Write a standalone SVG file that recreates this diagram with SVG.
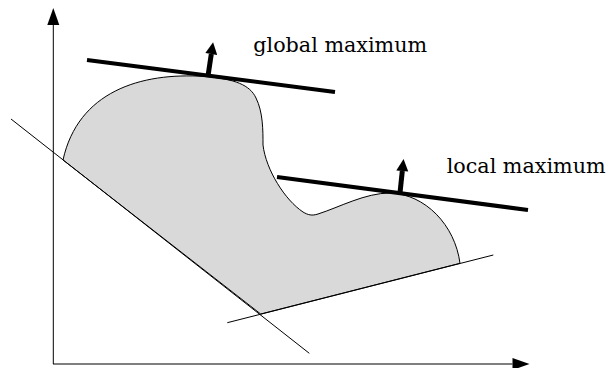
<svg xmlns="http://www.w3.org/2000/svg" width="608" height="368" viewBox="0 0 608 368">
  <style>
    .thin { stroke: #000; stroke-width: 1; fill: none; }
    .thick { stroke: #000; stroke-width: 4; fill: none; }
    .shaft { stroke: #000; stroke-width: 5; fill: none; }
    .region { fill: #d9d9d9; stroke: #000; stroke-width: 1; }
    .label { font-family: "DejaVu Serif", "Liberation Serif", serif; font-size: 20.7px; fill: #000; }
  </style>
  <defs>
    <marker id="axisHead" markerUnits="userSpaceOnUse" markerWidth="17" markerHeight="12" refX="0" refY="6" orient="auto" overflow="visible">
      <path d="M0,0 L17,6 L0,12 Z" fill="#000"/>
    </marker>
    <marker id="normalHead" markerUnits="userSpaceOnUse" markerWidth="12" markerHeight="12" refX="0" refY="6" orient="auto" overflow="visible">
      <path d="M0,0 L12,6 L0,12 Z" fill="#000"/>
    </marker>
  </defs>
  <rect width="608" height="368" fill="#fff"/>

  <g id="region">
    <path class="region" d="M63,160 C78,92 140,72 205,76.5 C235,79 250,85 256,98 C263,112 263,130 263,145 C266,170 285,200 303,212 C308,215 312,216 318,214 C340,207 365,193 390,193 C425,194 455,225 460,263.3 L260.7,314 Z"/>
  </g>

  <g id="connectors">
    <line id="y-axis" class="thin" x1="53.3" y1="364" x2="53.3" y2="25" marker-end="url(#axisHead)"/>
    <line id="x-axis" class="thin" x1="53" y1="364" x2="512.5" y2="364" marker-end="url(#axisHead)"/>
    <line id="constraint-left" class="thin" x1="11" y1="119" x2="309.3" y2="353.3"/>
    <line id="constraint-bottom" class="thin" x1="227.3" y1="322.7" x2="493.3" y2="255"/>
    <line id="global-tangent" class="thick" x1="87" y1="60" x2="335" y2="92"/>
    <line id="local-tangent" class="thick" x1="277" y1="177" x2="528" y2="210"/>
    <line id="global-normal" class="shaft" x1="208" y1="76" x2="211.3" y2="54" marker-end="url(#normalHead)"/>
    <line id="local-normal" class="shaft" x1="400" y1="193" x2="402.3" y2="171" marker-end="url(#normalHead)"/>
  </g>

  <g id="label-global">
    <text class="label" x="253.3" y="52.3">global maximum</text>
  </g>
  <g id="label-local">
    <text class="label" x="446.7" y="173">local maximum</text>
  </g>
</svg>
